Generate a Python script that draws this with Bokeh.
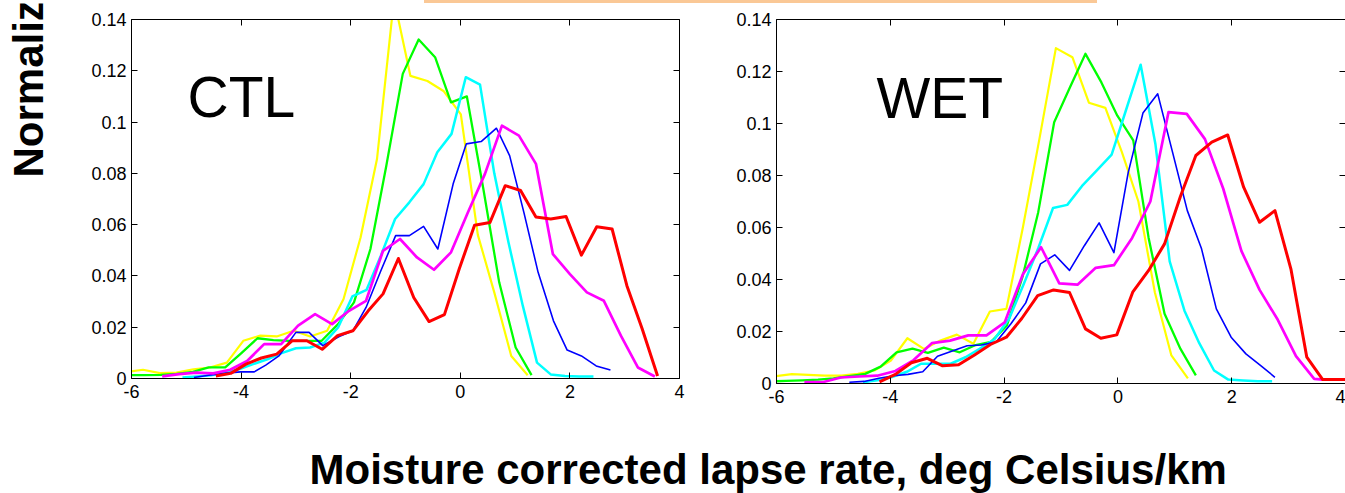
import math
from bokeh.plotting import figure
from bokeh.layouts import column, row
from bokeh.models import Range1d, LinearAxis, FixedTicker, Label, Div
from bokeh.embed import file_html
from bokeh.resources import INLINE

# ---------------- data ----------------
X_TICKS = [-6, -4, -2, 0, 2, 4]
X_TICK_LABELS = ["-6", "-4", "-2", "0", "2", "4"]
Y_TICKS = [0, 0.02, 0.04, 0.06, 0.08, 0.1, 0.12, 0.14]
Y_TICK_LABELS = ["0", "0.02", "0.04", "0.06", "0.08", "0.1", "0.12", "0.14"]

PANEL_NAMES = ["CTL", "WET"]
X_LABEL = "Moisture corrected lapse rate, deg Celsius/km"
Y_LABEL = "Normalized frequency"

# CTL panel
ctl_yellow_x = [-6.09, -5.79, -5.48, -5.18, -4.87, -4.57, -4.26, -3.96, -3.65, -3.35, -3.04, -2.74, -2.43,
                -2.13, -1.82, -1.52, -1.21, -0.91, -0.60, -0.30, 0.01, 0.32, 0.62, 0.93, 1.23]
ctl_yellow_y = [0.0025, 0.0034, 0.0021, 0.0023, 0.0036, 0.0043, 0.0062, 0.0147, 0.0167, 0.0164, 0.0186, 0.0164,
                0.0186, 0.031, 0.055, 0.0856, 0.148, 0.118, 0.116, 0.112, 0.103, 0.056, 0.0336, 0.0088, 0.0013]

ctl_green_x = [-6.06, -5.77, -5.47, -5.18, -4.88, -4.59, -4.29, -4.00, -3.70, -3.41, -3.12, -2.82, -2.53,
               -2.23, -1.94, -1.64, -1.35, -1.05, -0.76, -0.46, -0.17, 0.12, 0.42, 0.71, 1.01, 1.30]
ctl_green_y = [0.0013, 0.0013, 0.0014, 0.0018, 0.0026, 0.0043, 0.0043, 0.0098, 0.0157, 0.015, 0.0147, 0.0147,
               0.0147, 0.0212, 0.0297, 0.0505, 0.083, 0.1188, 0.1322, 0.1253, 0.1077, 0.110, 0.074, 0.0375,
               0.0121, 0.0013]

ctl_cyan_x = [-5.07, -4.81, -4.55, -4.29, -4.04, -3.78, -3.52, -3.26, -3.00, -2.74, -2.48, -2.23, -1.97,
              -1.71, -1.45, -1.19, -0.93, -0.67, -0.42, -0.16, 0.10, 0.36, 0.62, 0.88, 1.14, 1.40, 1.65,
              1.91, 2.17, 2.43]
ctl_cyan_y = [0.0004, 0.0008, 0.0013, 0.0023, 0.0036, 0.0056, 0.0075, 0.0099, 0.0118, 0.0121, 0.014, 0.0199,
              0.032, 0.0346, 0.0479, 0.0622, 0.0687, 0.0758, 0.0882, 0.0954, 0.1175, 0.1146, 0.080, 0.053,
              0.0284, 0.0062, 0.0016, 0.001, 0.0008, 0.0008]

ctl_blue_x = [-4.86, -4.59, -4.28, -4.01, -3.76, -3.55, -3.31, -3.00, -2.76, -2.51, -2.21, -1.96, -1.72,
              -1.45, -1.18, -0.93, -0.67, -0.41, -0.13, 0.11, 0.38, 0.66, 0.90, 1.16, 1.42, 1.70, 1.95,
              2.21, 2.48, 2.74]
ctl_blue_y = [0.0004, 0.0013, 0.0021, 0.0026, 0.0026, 0.0052, 0.0088, 0.018, 0.018, 0.0128, 0.0164, 0.0186,
              0.0277, 0.042, 0.0557, 0.0557, 0.0593, 0.0505, 0.0759, 0.0915, 0.0924, 0.0976, 0.0869, 0.0648,
              0.0414, 0.0225, 0.0111, 0.0088, 0.0049, 0.0033]

ctl_magenta_x = [-5.44, -5.13, -4.82, -4.51, -4.20, -3.89, -3.58, -3.27, -2.96, -2.65, -2.34, -2.03, -1.72,
                 -1.41, -1.10, -0.79, -0.48, -0.17, 0.14, 0.45, 0.76, 1.07, 1.38, 1.69, 2.00, 2.31, 2.62,
                 2.93, 3.24, 3.55]
ctl_magenta_y = [0.0008, 0.0017, 0.0023, 0.002, 0.0034, 0.0068, 0.0134, 0.0134, 0.0206, 0.0251, 0.0212,
                 0.0264, 0.0303, 0.0498, 0.0544, 0.0472, 0.0424, 0.0492, 0.0648, 0.0798, 0.0986, 0.0947,
                 0.0837, 0.0485, 0.0407, 0.0336, 0.0303, 0.0167, 0.0043, 0.0008]

ctl_red_x = [-4.46, -4.19, -3.91, -3.63, -3.35, -3.07, -2.80, -2.52, -2.24, -1.96, -1.68, -1.41, -1.13,
             -0.85, -0.57, -0.29, -0.02, 0.26, 0.54, 0.82, 1.10, 1.38, 1.65, 1.93, 2.21, 2.49, 2.77, 3.04,
             3.32, 3.60]
ctl_red_y = [0.001, 0.002, 0.0056, 0.008, 0.0095, 0.0147, 0.0147, 0.0114, 0.0167, 0.0186, 0.0264, 0.033,
             0.0468, 0.0316, 0.0222, 0.0249, 0.0427, 0.0598, 0.0608, 0.0752, 0.0733, 0.063, 0.0622, 0.0632,
             0.0481, 0.0592, 0.0583, 0.0362, 0.0193, 0.001]

# WET panel
wet_yellow_x = [-6.02, -5.73, -5.44, -5.15, -4.86, -4.57, -4.28, -3.99, -3.70, -3.41, -3.12, -2.83, -2.54,
                -2.25, -1.96, -1.67, -1.38, -1.09, -0.80, -0.51, -0.22, 0.07, 0.36, 0.65, 0.94, 1.23]
wet_yellow_y = [0.0028, 0.0036, 0.0033, 0.003, 0.003, 0.0037, 0.005, 0.0088, 0.0174, 0.0133, 0.0165, 0.0188,
                0.0153, 0.0277, 0.0287, 0.06, 0.094, 0.129, 0.1255, 0.108, 0.106, 0.089, 0.070, 0.035,
                0.0108, 0.002]

wet_green_x = [-6.11, -5.83, -5.55, -5.27, -5.00, -4.72, -4.44, -4.17, -3.89, -3.61, -3.34, -3.06, -2.78,
               -2.50, -2.23, -1.95, -1.67, -1.40, -1.12, -0.84, -0.57, -0.29, -0.01, 0.27, 0.54, 0.82, 1.10,
               1.37]
wet_green_y = [0.0008, 0.001, 0.0012, 0.0015, 0.002, 0.0028, 0.0037, 0.0065, 0.012, 0.0134, 0.0118, 0.0138,
               0.012, 0.0148, 0.016, 0.0223, 0.0415, 0.0659, 0.1005, 0.114, 0.1268, 0.1158, 0.103, 0.0935,
               0.056, 0.0268, 0.0133, 0.0031]

wet_cyan_x = [-4.48, -4.23, -3.97, -3.71, -3.46, -3.20, -2.94, -2.68, -2.43, -2.17, -1.91, -1.66, -1.40,
              -1.14, -0.89, -0.63, -0.37, -0.11, 0.14, 0.40, 0.66, 0.91, 1.17, 1.43, 1.69, 1.94, 2.20, 2.46,
              2.71]
wet_cyan_y = [0.0005, 0.0012, 0.0025, 0.0045, 0.0076, 0.0076, 0.0076, 0.0101, 0.0133, 0.017, 0.025, 0.038,
              0.052, 0.0675, 0.0687, 0.076, 0.082, 0.088, 0.105, 0.1226, 0.092, 0.047, 0.028, 0.0155, 0.005,
              0.0015, 0.0012, 0.0009, 0.0009]

wet_blue_x = [-4.72, -4.46, -4.20, -3.94, -3.69, -3.43, -3.17, -2.91, -2.65, -2.40, -2.14, -1.88, -1.62,
              -1.36, -1.11, -0.85, -0.59, -0.33, -0.07, 0.18, 0.44, 0.70, 0.96, 1.22, 1.47, 1.73, 1.99, 2.25,
              2.51, 2.76]
wet_blue_y = [0.0005, 0.0008, 0.002, 0.003, 0.0035, 0.0045, 0.0105, 0.0125, 0.0145, 0.0148, 0.016, 0.023,
              0.031, 0.046, 0.0495, 0.0435, 0.053, 0.0618, 0.0503, 0.081, 0.104, 0.1114, 0.089, 0.0665,
              0.0518, 0.0287, 0.0178, 0.0114, 0.0069, 0.0024]

wet_magenta_x = [-5.51, -5.19, -4.87, -4.55, -4.23, -3.91, -3.59, -3.27, -2.95, -2.63, -2.31, -1.99, -1.67,
                 -1.35, -1.03, -0.71, -0.39, -0.07, 0.25, 0.57, 0.89, 1.21, 1.53, 1.85, 2.17, 2.49, 2.81,
                 3.13, 3.45, 3.60]
wet_magenta_y = [0.0005, 0.0005, 0.0023, 0.0027, 0.003, 0.0048, 0.009, 0.0155, 0.0165, 0.0185, 0.0185,
                 0.0235, 0.042, 0.0524, 0.0385, 0.038, 0.0445, 0.0455, 0.056, 0.070, 0.1044, 0.1037, 0.094,
                 0.075, 0.051, 0.036, 0.0245, 0.0105, 0.0018, 0.0015]

wet_red_x = [-4.19, -3.91, -3.63, -3.35, -3.08, -2.80, -2.52, -2.24, -1.96, -1.69, -1.41, -1.13, -0.85,
             -0.57, -0.30, -0.02, 0.26, 0.54, 0.82, 1.10, 1.37, 1.65, 1.93, 2.21, 2.49, 2.76, 3.04, 3.32,
             3.60, 3.88, 4.16]
wet_red_y = [0.0006, 0.0035, 0.008, 0.0097, 0.0068, 0.0072, 0.011, 0.015, 0.0178, 0.025, 0.0338, 0.036,
             0.035, 0.021, 0.0174, 0.0187, 0.0351, 0.0435, 0.0537, 0.072, 0.0877, 0.0928, 0.0956, 0.0755,
             0.062, 0.0665, 0.0441, 0.0101, 0.0015, 0.0015, 0.0015]

SERIES_COLORS = ["#FFFF00", "#00FF00", "#00FFFF", "#0000FF", "#FF00FF", "#FF0000"]
SERIES_WIDTHS = [2.2, 2.3, 2.5, 1.6, 2.7, 3.0]

CTL_SERIES = [(ctl_yellow_x, ctl_yellow_y), (ctl_green_x, ctl_green_y), (ctl_cyan_x, ctl_cyan_y),
              (ctl_blue_x, ctl_blue_y), (ctl_magenta_x, ctl_magenta_y), (ctl_red_x, ctl_red_y)]
WET_SERIES = [(wet_yellow_x, wet_yellow_y), (wet_green_x, wet_green_y), (wet_cyan_x, wet_cyan_y),
              (wet_blue_x, wet_blue_y), (wet_magenta_x, wet_magenta_y), (wet_red_x, wet_red_y)]

FONT = "Liberation Sans"
TICK_SIZE = "18px"


def style_axis(ax, ticks, labels, show_labels, show_line=True):
    ax.ticker = FixedTicker(ticks=ticks, minor_ticks=[])
    ax.major_tick_in = 6
    ax.major_tick_out = 0
    ax.minor_tick_in = 0
    ax.minor_tick_out = 0
    ax.major_tick_line_color = "black"
    ax.major_tick_line_width = 1
    ax.axis_line_color = "black" if show_line else None
    ax.axis_line_width = 1
    if show_labels:
        ax.major_label_overrides = {t: l for t, l in zip(ticks, labels)}
        ax.major_label_text_font = FONT
        ax.major_label_text_font_size = TICK_SIZE
        ax.major_label_text_color = "black"
    else:
        ax.major_label_overrides = {t: "" for t in ticks}
        ax.major_label_text_font_size = "0px"
        ax.major_label_standoff = 0


def make_panel(width, height, bl, br, bt, bb, series, right_line=True):
    p = figure(width=width, height=height, x_range=Range1d(-6, 4), y_range=Range1d(0, 0.14),
               output_backend="svg", toolbar_location=None,
               min_border_left=bl, min_border_right=br, min_border_top=bt, min_border_bottom=bb,
               x_axis_location=None, y_axis_location=None)
    p.outline_line_color = None
    p.background_fill_color = "white"
    p.border_fill_color = "white"
    p.grid.visible = False

    xb = LinearAxis()
    style_axis(xb, X_TICKS, X_TICK_LABELS, True)
    xb.major_label_standoff = 6
    p.add_layout(xb, "below")
    xa = LinearAxis()
    style_axis(xa, X_TICKS, X_TICK_LABELS, False)
    p.add_layout(xa, "above")
    yl = LinearAxis()
    style_axis(yl, Y_TICKS, Y_TICK_LABELS, True)
    yl.major_label_standoff = 5
    p.add_layout(yl, "left")
    yr = LinearAxis()
    style_axis(yr, Y_TICKS, Y_TICK_LABELS, False, show_line=right_line)
    p.add_layout(yr, "right")

    for (xs, ys), c, w in zip(series, SERIES_COLORS, SERIES_WIDTHS):
        p.line(xs, ys, line_color=c, line_width=w, line_join="round")
    return p


def blank(width, height):
    f = figure(width=width, height=height, x_range=Range1d(0, width), y_range=Range1d(0, height),
               output_backend="svg", toolbar_location=None, min_border=0,
               x_axis_location=None, y_axis_location=None)
    f.outline_line_color = None
    f.grid.visible = False
    return f


# top peach strip (plain HTML block, painted with a gradient)
top_bar = Div(text="", width=1345, height=3, margin=(0, 0, 0, 0),
              styles={"background": "linear-gradient(90deg, #ffffff 0px, #ffffff 424px, #FAC896 424px, "
                                    "#FAC896 1097px, #ffffff 1097px, #ffffff 1345px)"})

# y-label strip (left edge)
ylab = blank(60, 417)
ylab.add_layout(Label(x=28, y=243, text=Y_LABEL, angle=math.pi / 2, text_font=FONT,
                      text_font_size="42px", text_font_style="bold", text_color="black",
                      text_baseline="middle", text_align="left"))

left = make_panel(655, 417, 71, 36, 16, 42, CTL_SERIES)
left.add_layout(Label(x=-4.976, y=0.1099, text=PANEL_NAMES[0], text_font=FONT, text_font_size="57px",
                      text_color="black", text_baseline="middle", text_align="left"))

right = make_panel(630, 417, 61, 0, 16, 37, WET_SERIES, right_line=False)
right.add_layout(Label(x=-4.243, y=0.1100, text=PANEL_NAMES[1], text_font=FONT, text_font_size="57px",
                       text_color="black", text_baseline="middle", text_align="left"))

bottom = blank(1345, 73)
bottom.add_layout(Label(x=309, y=23.6, text=X_LABEL, text_font=FONT, text_font_size="42px",
                        text_font_style="bold", text_color="black", text_baseline="middle",
                        text_align="left"))

layout = column(top_bar,
                row(ylab, row(left, spacing=0), row(right, spacing=0), spacing=0),
                row(bottom, spacing=0),
                spacing=0)

open("out.html", "w").write(file_html(layout, INLINE))
